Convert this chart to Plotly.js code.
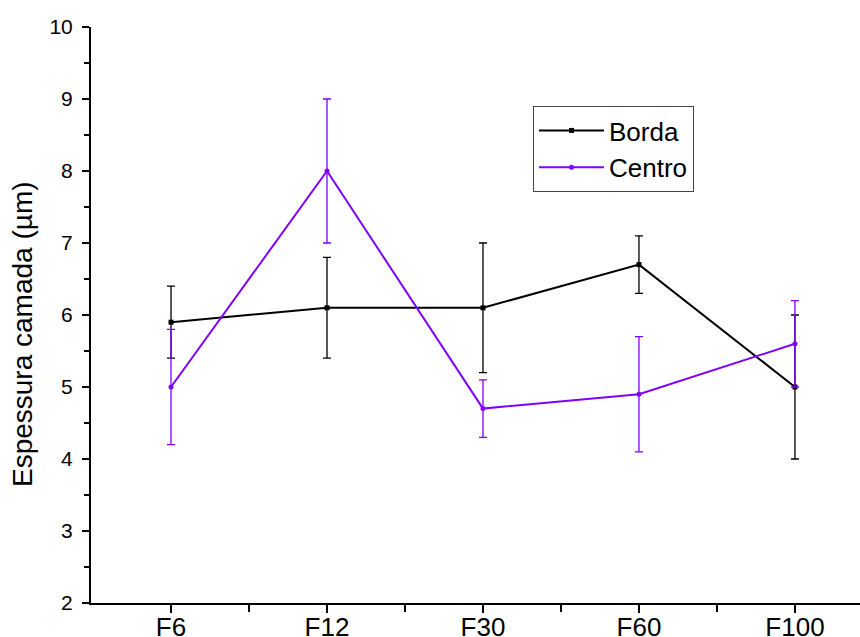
<!DOCTYPE html>
<html>
<head>
<meta charset="utf-8">
<script src="https://cdn.plot.ly/plotly-3.0.1.min.js"></script>
<style>html,body{margin:0;padding:0;background:#fff;}#chart{width:860px;height:637px;}</style>
</head>
<body>
<div id="chart"></div>
<script>
const categories = ["F6", "F12", "F30", "F60", "F100"];
const bordaValues = [5.9, 6.1, 6.1, 6.7, 5.0];
const bordaErrPlus = [0.5, 0.7, 0.9, 0.4, 1.0];
const bordaErrMinus = [0.5, 0.7, 0.9, 0.4, 1.0];
const centroValues = [5.0, 8.0, 4.7, 4.9, 5.6];
const centroErrPlus = [0.8, 1.0, 0.4, 0.8, 0.6];
const centroErrMinus = [0.8, 1.0, 0.4, 0.8, 0.6];
const seriesNames = ["Borda", "Centro"];
const yAxisTitle = "Espessura camada (µm)";

const xIdx = categories.map((c, i) => i);
const font = "Arial, 'Liberation Sans', sans-serif";

const traces = [
  {
    x: xIdx, y: bordaValues, name: seriesNames[0], type: "scatter", mode: "lines+markers",
    line: {color: "#000000", width: 2},
    marker: {symbol: "square", size: 5, color: "#000000"},
    error_y: {type: "data", symmetric: false, array: bordaErrPlus, arrayminus: bordaErrMinus,
              color: "#000000", thickness: 1.3, width: 4}
  },
  {
    x: xIdx, y: centroValues, name: seriesNames[1], type: "scatter", mode: "lines+markers",
    line: {color: "#8000ff", width: 2},
    marker: {symbol: "circle", size: 5, color: "#8000ff"},
    error_y: {type: "data", symmetric: false, array: centroErrPlus, arrayminus: centroErrMinus,
              color: "#8000ff", thickness: 1.3, width: 4}
  }
];

const layout = {
  width: 860, height: 637,
  margin: {l: 91, r: 0, t: 27, b: 34, pad: 0},
  paper_bgcolor: "#fff", plot_bgcolor: "#fff",
  font: {family: font, color: "#000"},
  showlegend: true,
  legend: {
    x: 0.5748, y: 0.8628, xanchor: "left", yanchor: "top",
    bgcolor: "#fff", bordercolor: "#444", borderwidth: 1,
    font: {family: font, size: 26, color: "#000"},
    tracegroupgap: 0, itemwidth: 65
  },
  xaxis: {
    range: [-0.513, 4.417],
    tickmode: "array", tickvals: xIdx, ticktext: categories,
    ticks: "outside", ticklen: 8, tickwidth: 2, tickcolor: "#000",
    showline: true, linecolor: "#000", linewidth: 2,
    showgrid: false, zeroline: false,
    tickfont: {family: font, size: 26, color: "#000"},
    ticklabelstandoff: -8,
    minor: {tickmode: "array", tickvals: [0.5, 1.5, 2.5, 3.5], ticks: "outside", ticklen: 7, tickwidth: 2, tickcolor: "#000", showgrid: false}
  },
  yaxis: {
    range: [2, 10],
    tickmode: "linear", tick0: 2, dtick: 1,
    ticks: "outside", ticklen: 7, tickwidth: 2, tickcolor: "#000",
    showline: true, linecolor: "#000", linewidth: 2,
    showgrid: false, zeroline: false,
    tickfont: {family: font, size: 21, color: "#000"},
    ticklabelstandoff: 5,
    minor: {dtick: 0.5, ticks: "outside", ticklen: 5, tickwidth: 2, tickcolor: "#000", showgrid: false}
  },
  annotations: [{
    text: yAxisTitle, xref: "paper", yref: "paper",
    x: -0.0897, y: 0.467, xanchor: "center", yanchor: "middle",
    textangle: -90, showarrow: false,
    font: {family: font, size: 28, color: "#000"}
  }]
};

Plotly.newPlot("chart", traces, layout, {displayModeBar: false, staticPlot: true});
</script>
</body>
</html>
